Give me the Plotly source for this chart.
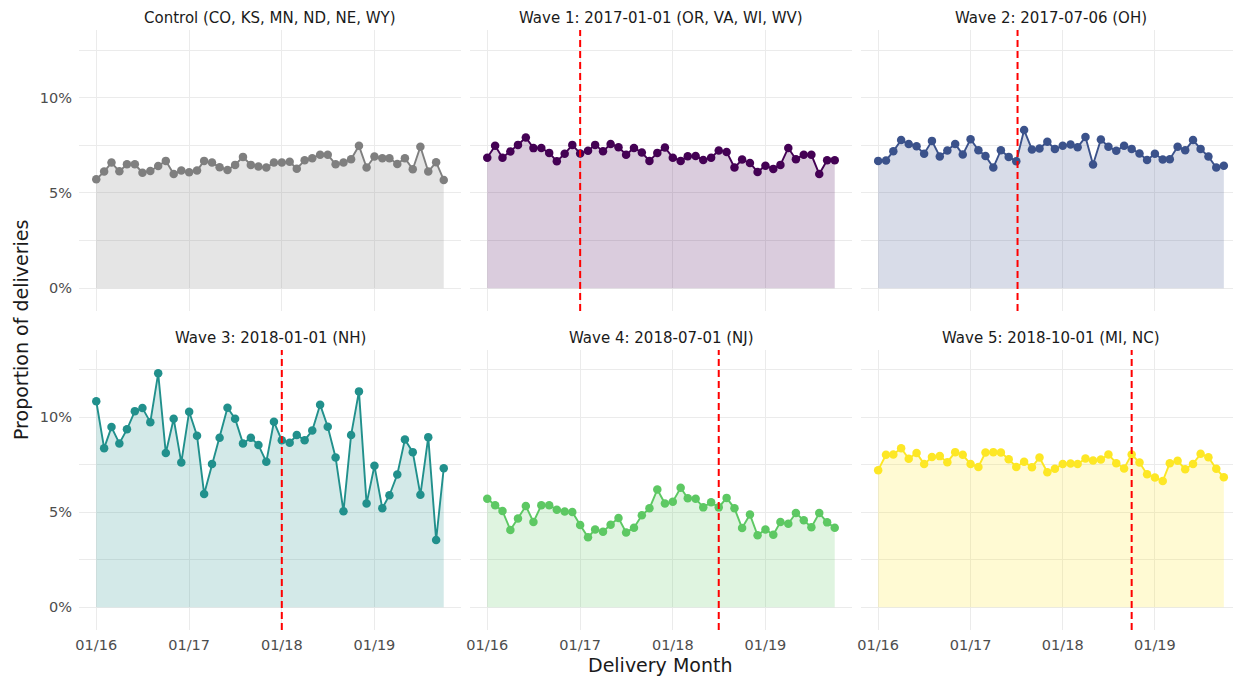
import pandas as pd
import plotly.graph_objects as go

# ---------------- data ----------------
months = pd.date_range("2016-01-01", "2019-10-01", freq="MS")

panel_titles = [
    "Control (CO, KS, MN, ND, NE, WY)",
    "Wave 1: 2017-01-01 (OR, VA, WI, WV)",
    "Wave 2: 2017-07-06 (OH)",
    "Wave 3: 2018-01-01 (NH)",
    "Wave 4: 2018-07-01 (NJ)",
    "Wave 5: 2018-10-01 (MI, NC)",
]
policy_dates = [None, "2017-01-01", "2017-07-06", "2018-01-01", "2018-07-01", "2018-10-01"]

control = [5.71, 6.12, 6.59, 6.13, 6.50, 6.50, 6.06, 6.15, 6.41, 6.68, 5.99, 6.17, 6.08, 6.17, 6.68, 6.59,
           6.34, 6.20, 6.47, 6.89, 6.47, 6.38, 6.33, 6.59, 6.59, 6.63, 6.27, 6.71, 6.82, 7.00, 7.00, 6.50,
           6.59, 6.77, 7.47, 6.33, 6.91, 6.82, 6.82, 6.52, 6.82, 6.24, 7.42, 6.12, 6.61, 5.68]
wave1 = [6.84, 7.47, 6.85, 7.17, 7.52, 7.91, 7.35, 7.36, 7.10, 6.66, 7.05, 7.52, 7.07, 7.21, 7.52, 7.19,
         7.56, 7.40, 7.00, 7.36, 7.12, 6.68, 7.10, 7.38, 6.85, 6.68, 6.92, 6.94, 6.73, 6.85, 7.22, 7.15,
         6.33, 6.75, 6.57, 6.10, 6.43, 6.26, 6.47, 7.36, 6.77, 7.00, 7.00, 5.99, 6.71, 6.71]
wave2 = [6.68, 6.70, 7.19, 7.77, 7.56, 7.45, 7.05, 7.73, 6.91, 7.22, 7.57, 7.01, 7.82, 7.24, 6.94, 6.33,
         7.24, 6.89, 6.66, 8.30, 7.28, 7.33, 7.68, 7.31, 7.47, 7.54, 7.40, 7.93, 6.49, 7.80, 7.42, 7.21,
         7.47, 7.31, 7.07, 6.73, 7.05, 6.75, 6.77, 7.42, 7.24, 7.77, 7.31, 6.91, 6.33, 6.43]
wave3 = [10.85, 8.38, 9.49, 8.63, 9.37, 10.33, 10.49, 9.75, 12.32, 8.12, 9.93, 7.62, 10.30, 9.03, 5.97, 7.55,
         8.93, 10.51, 9.93, 8.63, 8.93, 8.54, 7.66, 9.77, 8.79, 8.66, 9.07, 8.80, 9.31, 10.67, 9.51, 7.89,
         5.05, 9.07, 11.37, 5.46, 7.45, 5.21, 5.90, 6.99, 8.84, 8.17, 5.92, 8.96, 3.54, 7.32]
wave4 = [5.72, 5.37, 5.07, 4.07, 4.67, 5.33, 4.49, 5.37, 5.37, 5.14, 5.04, 5.02, 4.33, 3.68, 4.10, 3.98,
         4.35, 4.70, 3.94, 4.19, 4.84, 5.21, 6.20, 5.46, 5.56, 6.29, 5.74, 5.72, 5.26, 5.53, 5.26, 5.76,
         5.21, 4.17, 4.88, 3.79, 4.10, 3.82, 4.49, 4.40, 4.96, 4.58, 4.21, 4.96, 4.47, 4.19]
wave5 = [7.22, 8.03, 8.05, 8.38, 7.82, 8.13, 7.54, 7.91, 7.96, 7.64, 8.17, 8.03, 7.54, 7.39, 8.15, 8.17,
         8.15, 7.80, 7.39, 7.66, 7.38, 7.89, 7.11, 7.29, 7.55, 7.57, 7.54, 7.83, 7.73, 7.78, 8.05, 7.59,
         7.31, 8.05, 7.62, 7.00, 6.83, 6.65, 7.59, 7.71, 7.27, 7.55, 8.08, 7.90, 7.29, 6.85]

series = [control, wave1, wave2, wave3, wave4, wave5]
colors = ["#7f7f7f", "#440154", "#3B528B", "#21908C", "#5DC863", "#FDE725"]
fills = ["rgba(127,127,127,0.2)", "rgba(68,1,84,0.2)", "rgba(59,82,139,0.2)",
         "rgba(33,144,140,0.2)", "rgba(93,200,99,0.2)", "rgba(253,231,37,0.2)"]

x_tick_vals = ["2016-01-01", "2017-01-01", "2018-01-01", "2019-01-01"]
x_tick_text = ["01/16", "01/17", "01/18", "01/19"]
y_tick_vals = [0, 5, 10]
y_tick_text = ["0%", "5%", "10%"]

# ---------------- layout geometry ----------------
# The page body has an 8px margin, so the figure starts at page (8, 8).
OFF = 8
PAGE_W, PAGE_H = 1241, 679
W, H = PAGE_W - OFF, PAGE_H - OFF
ML = 79 - OFF
MT = 30 - OFF
MR = 0
MB = H - (630 - OFF)
PW = W - ML - MR
PH = H - MT - MB

def px_x(px):  # page pixel -> paper x
    return (px - OFF - ML) / PW

def px_y(py):  # page pixel -> paper y
    return (H - MB - (py - OFF)) / PH

col_dom = [[px_x(79), px_x(461)], [px_x(470), px_x(852)], [px_x(861), px_x(1241)]]
row_dom = [[px_y(311), px_y(30)], [px_y(630), px_y(350)]]

FONT = "DejaVu Sans"
fig = go.Figure()
layout = dict(
    width=W, height=H,
    margin=dict(l=ML, r=MR, t=MT, b=MB),
    paper_bgcolor="white", plot_bgcolor="white",
    showlegend=False,
    font=dict(family=FONT, color="#4d4d4d"),
)
shapes, annotations = [], []

for i in range(6):
    r, c = divmod(i, 3)
    k = i + 1
    xa = "x" if k == 1 else f"x{k}"
    ya = "y" if k == 1 else f"y{k}"
    fig.add_trace(go.Scatter(
        x=months, y=series[i], mode="lines+markers",
        line=dict(color=colors[i], width=1.9),
        marker=dict(color=colors[i], size=8.5),
        fill="tozeroy", fillcolor=fills[i],
        xaxis=xa, yaxis=ya, hoverinfo="x+y",
    ))
    layout["xaxis" if k == 1 else f"xaxis{k}"] = dict(
        domain=col_dom[c], anchor=ya, type="date",
        range=["2015-10-25", "2019-12-08"],
        tickvals=x_tick_vals, ticktext=x_tick_text,
        showticklabels=(r == 1),
        tickfont=dict(size=14.5, color="#4d4d4d", family=FONT),
        ticklabelstandoff=4,
        showgrid=True, gridcolor="#ebebeb", gridwidth=1.4,
        zeroline=False, showline=False, ticks="",
    )
    layout["yaxis" if k == 1 else f"yaxis{k}"] = dict(
        domain=row_dom[r], anchor=xa,
        range=[-1.2, 13.55],
        tickvals=y_tick_vals, ticktext=y_tick_text,
        showticklabels=(c == 0),
        tickfont=dict(size=14.5, color="#4d4d4d", family=FONT),
        ticklabelstandoff=6,
        showgrid=True, gridcolor="#ebebeb", gridwidth=1.4,
        minor=dict(tick0=2.5, dtick=5, showgrid=True, gridcolor="#ebebeb", gridwidth=0.9),
        zeroline=False, showline=False, ticks="",
    )
    if policy_dates[i] is not None:
        shapes.append(dict(
            type="line", xref=xa, yref=f"{ya} domain",
            x0=policy_dates[i], x1=policy_dates[i], y0=0, y1=1,
            line=dict(color="#FF0000", width=2, dash="7px,4px"), layer="above",
        ))
    annotations.append(dict(
        text=panel_titles[i], xref="paper", yref="paper",
        x=(col_dom[c][0] + col_dom[c][1]) / 2, y=row_dom[r][1] + 12.5 / PH,
        xanchor="center", yanchor="middle", showarrow=False,
        font=dict(size=15, color="#1a1a1a", family=FONT),
    ))

annotations.append(dict(
    text="Delivery Month", xref="paper", yref="paper",
    x=px_x(660), y=px_y(665), xanchor="center", yanchor="middle", showarrow=False,
    font=dict(size=19, color="#1a1a1a", family=FONT),
))
annotations.append(dict(
    text="Proportion of deliveries", xref="paper", yref="paper",
    x=px_x(21), y=px_y(330), xanchor="center", yanchor="middle", showarrow=False,
    textangle=-90, font=dict(size=19, color="#1a1a1a", family=FONT),
))

layout["shapes"] = shapes
layout["annotations"] = annotations
fig.update_layout(**layout)
fig.write_html("out.html")
